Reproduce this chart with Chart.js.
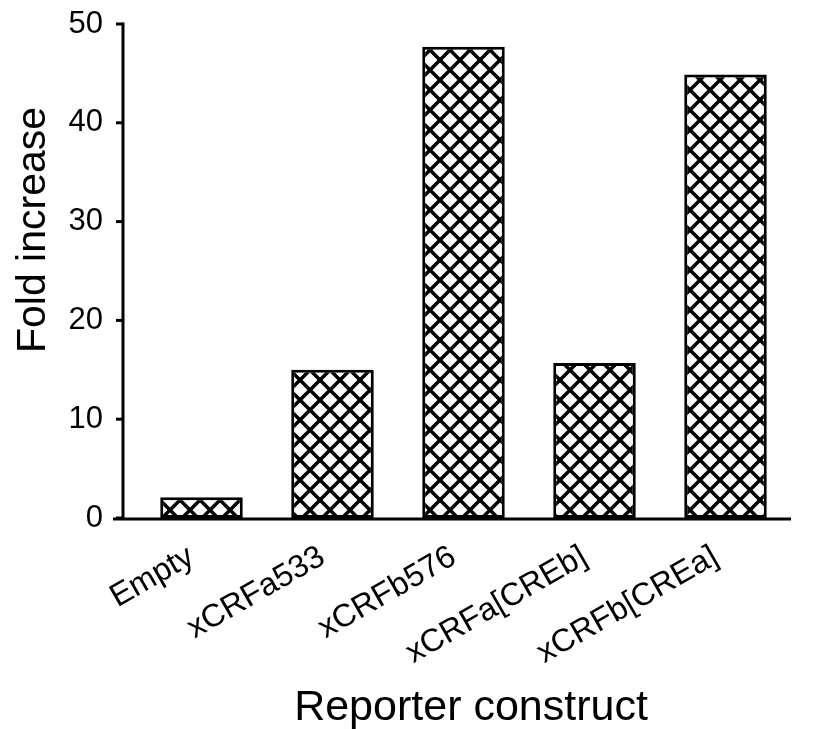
<!DOCTYPE html>
<html>
<head>
<meta charset="utf-8">
<script src="https://cdn.jsdelivr.net/npm/chart.js@4.4.0/dist/chart.umd.min.js"></script>
<style>
  html, body { margin: 0; padding: 0; background: #fff; }
  #wrap { width: 821px; height: 729px; }
</style>
</head>
<body>
<div id="wrap"><canvas id="fold"></canvas></div>
<script>
const constructs = ['Empty', 'xCRFa533', 'xCRFb576', 'xCRFa[CREb]', 'xCRFb[CREa]'];
const foldIncrease = [2.1, 15.0, 47.7, 15.7, 44.9];
const yTicks = [0, 10, 20, 30, 40, 50];
const xTitle = 'Reporter construct';
const yTitle = 'Fold increase';

const fontFamily = '"Liberation Sans", Arial, sans-serif';

// crosshatch fill like the printed figure
function crosshatch() {
  const c = document.createElement('canvas');
  c.width = 20; c.height = 20;
  const g = c.getContext('2d');
  g.fillStyle = '#fff';
  g.fillRect(0, 0, 20, 20);
  g.strokeStyle = '#000';
  g.lineWidth = 3.5;
  for (const k of [-20, 0, 20]) {
    g.beginPath(); g.moveTo(k, 0); g.lineTo(k + 20, 20); g.stroke();
    g.beginPath(); g.moveTo(k, 20); g.lineTo(k + 20, 0); g.stroke();
  }
  return g.createPattern(c, 'repeat');
}

// axis lines set off from the plot, plus the two axis titles
const axisLines = {
  id: 'axisLines',
  afterDraw(chart) {
    const { ctx, chartArea, scales } = chart;
    const y = scales.y;
    const ax = chartArea.left - 13;
    const y0 = y.getPixelForValue(0);
    ctx.save();
    ctx.strokeStyle = '#000';
    ctx.lineWidth = 3;
    ctx.beginPath();
    ctx.moveTo(ax, y0);
    ctx.lineTo(ax, y.getPixelForValue(yTicks[yTicks.length - 1]) - 1.5);
    ctx.stroke();
    ctx.beginPath();
    ctx.moveTo(ax - 10, y0 + 1);
    ctx.lineTo(chartArea.right, y0 + 1);
    ctx.stroke();
    for (const t of y.ticks) {
      const py = y.getPixelForValue(t.value);
      ctx.beginPath();
      ctx.moveTo(ax - 7, py);
      ctx.lineTo(ax, py);
      ctx.stroke();
    }

    ctx.fillStyle = '#000';
    ctx.textAlign = 'center';
    ctx.textBaseline = 'alphabetic';
    ctx.font = '43px ' + fontFamily;
    ctx.fillText(xTitle, 471, 720);
    ctx.translate(45, 230);
    ctx.rotate(-Math.PI / 2);
    ctx.font = '41px ' + fontFamily;
    ctx.fillText(yTitle, 0, 0);
    ctx.restore();
  }
};

new Chart(document.getElementById('fold'), {
  type: 'bar',
  data: {
    labels: constructs,
    datasets: [{
      data: foldIncrease,
      backgroundColor: crosshatch(),
      borderColor: '#000',
      borderWidth: 3,
      borderSkipped: false,
      barPercentage: 0.63,
      categoryPercentage: 1
    }]
  },
  options: {
    responsive: true,
    maintainAspectRatio: false,
    animation: false,
    layout: { padding: { left: 0, right: 30, top: 24, bottom: 0 } },
    plugins: { legend: { display: false }, tooltip: { enabled: false } },
    scales: {
      x: {
        grid: { display: false },
        border: { display: false },
        afterFit(scale) {
          scale.height = 211;
          scale.paddingLeft = 0;
          scale.paddingRight = 0;
        },
        ticks: {
          color: '#000',
          font: { family: fontFamily, size: 32 },
          minRotation: 30,
          maxRotation: 30,
          autoSkip: false,
          labelOffset: -10,
          padding: 12
        }
      },
      y: {
        min: 0,
        max: 50,
        grid: { display: false },
        border: { display: false },
        afterBuildTicks(scale) {
          scale.ticks = yTicks.map(v => ({ value: v }));
        },
        afterFit(scale) {
          scale.width = 136;
          scale.paddingTop = 0;
          scale.paddingBottom = 0;
        },
        ticks: {
          color: '#000',
          font: { family: fontFamily, size: 31 },
          padding: 25
        }
      }
    }
  },
  plugins: [axisLines]
});
</script>
</body>
</html>
